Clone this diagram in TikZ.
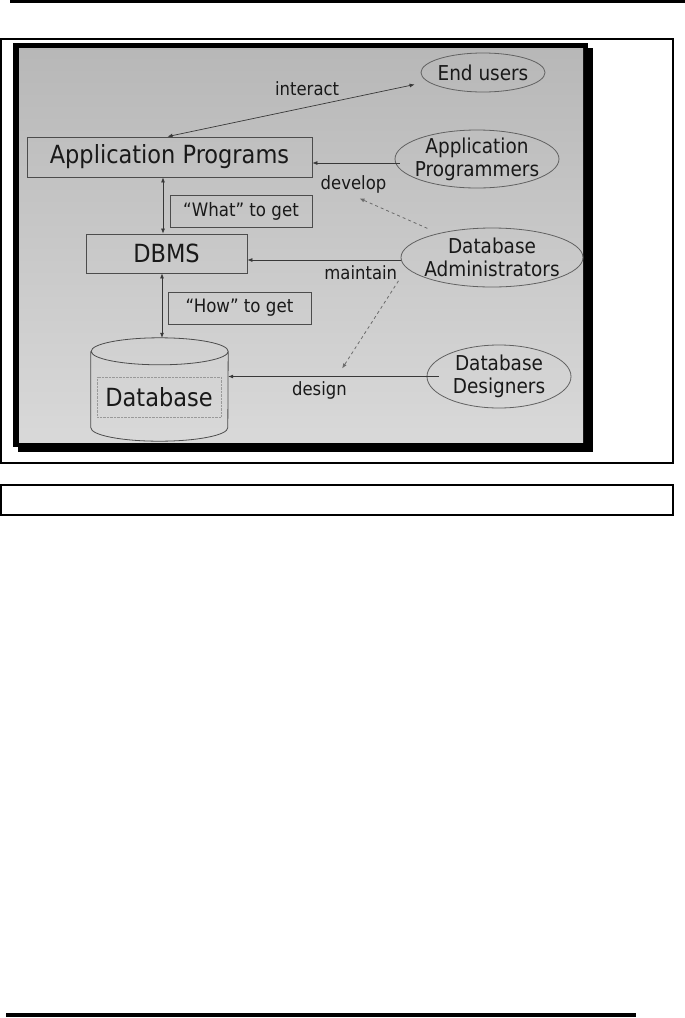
\documentclass[tikz,border=0pt]{standalone}
\usepackage{fontspec}
\setmainfont{DejaVu Sans Condensed}
\usepackage{tikz}
\usetikzlibrary{arrows.meta,positioning,shapes.geometric}
\tikzset{
  prog/.style={
    draw=black!70,
    line width=0.8pt,
    inner sep=0pt,
    text=black!90,
    font=\fontsize{25}{27}\selectfont
  },
  note/.style={
    draw=black!70,
    line width=0.8pt,
    minimum width=142pt,
    minimum height=32pt,
    inner sep=0pt,
    text=black!90,
    font=\fontsize{18.5}{21}\selectfont
  },
  actor/.style={
    ellipse,
    draw=black!62,
    line width=0.8pt,
    inner sep=0pt
  },
  who/.style={align=center, text=black!90, font=\fontsize{20.5}{23}\selectfont},
  verb/.style={text=black!90, font=\fontsize{18.3}{20}\selectfont, inner sep=1pt},
  flow/.style={-{Latex[length=5pt,width=4pt]}, draw=black!78, line width=0.7pt},
  both/.style={{Latex[length=5pt,width=4pt]}-{Latex[length=5pt,width=4pt]}, draw=black!78, line width=0.7pt},
  hint/.style={-{Latex[length=5pt,width=4pt]}, draw=black!58, dashed, line width=0.8pt}
}

\begin{document}
\begin{tikzpicture}[x=1pt,y=-1pt]
  \useasboundingbox (0,0) rectangle (685,1018);
  % page rules and frames
  \draw[line width=2.5pt] (10,1.25) -- (685,1.25);
  \draw[line width=1.5pt] (0.75,39) rectangle (673,463);
  \draw[line width=2pt] (1,485) rectangle (673,515);
  \draw[line width=3.5pt] (6,1015) -- (636,1015);

  % slide with its shadow
  \fill (13,43) rectangle (588,447);
  \fill (18,48) rectangle (593,452);
  \shade[top color=black!28, bottom color=black!15] (19,48) rectangle (583,442);

  \node[prog, minimum width=285pt, minimum height=40pt] (app) at (169.5,157) {Application Programs};
  \node[prog, minimum width=161pt, minimum height=39pt] (dbms) at (166.5,253.5) {DBMS};
  \node[note] (what) at (241,211) {``What'' to get};
  \node[note, minimum width=143pt] (how) at (239.5,308) {``How'' to get};

  % database drum
  \node[minimum width=137pt, minimum height=103pt, inner sep=0pt] (db) at (159.5,389.5) {};
  \draw[draw=black!70, line width=0.8pt]
    ([yshift=-13.5pt]db.north west) -- ([yshift=13.5pt]db.south west)
    arc[start angle=180, end angle=360, x radius=68.5pt, y radius=13.5pt]
    -- ([yshift=-13.5pt]db.north east)
    arc[start angle=0, end angle=360, x radius=68.5pt, y radius=13.5pt];
  \node[draw=black!40, densely dotted, minimum width=124pt, minimum height=40pt,
        text=black!90, font=\fontsize{25}{27}\selectfont] (dbname) at (159,397) {Database};

  \node[actor, minimum width=124pt, minimum height=39pt,
        label={[who]center:End users}] (users) at (483,72.5) {};
  \node[actor, minimum width=164pt, minimum height=58pt,
        label={[who]center:Application\\Programmers}] (coders) at (477,159) {};
  \node[actor, minimum width=182pt, minimum height=59pt,
        label={[who]center:Database\\Administrators}] (admins) at (492,257.5) {};
  \node[actor, minimum width=144pt, minimum height=63pt,
        label={[who]center:Database\\Designers}] (designers) at (499,376.5) {};

  \draw[both] ([shift={(-6pt,-12pt)}]users.west) -- ([xshift=-2pt]app.north)
    node[verb, pos=0.435, above=10pt] (interact) {interact};
  \draw[flow, shorten <=-5pt] ([yshift=-4pt]coders.west) -- ([yshift=-4pt]coders.west -| app.east)
    node[verb, midway, below=11pt] (develop) {develop};
  \draw[flow] ([yshift=-2.5pt]admins.west) -- ([yshift=-2.5pt]admins.west -| dbms.east)
    node[verb, pos=0.26, below=4pt] (maintain) {maintain};
  \draw[flow, shorten <=-12pt] (designers.west) -- (designers.west -| db.east)
    node[verb, pos=0.54, below=4pt] (design) {design};
  \draw[both] ([xshift=-6.5pt]app.south) -- ([xshift=-6.5pt]app.south |- dbms.north);
  \draw[both] ([xshift=-4.5pt]dbms.south) -- ([xshift=-4.5pt]dbms.south |- db.north);
  \draw[hint] ([yshift=8pt]admins.north west) -- ([xshift=6pt,yshift=-4pt]develop.south);
  \draw[hint] (maintain.south east) -- ([xshift=-6pt,yshift=12pt]design.north east);
\end{tikzpicture}
\end{document}
